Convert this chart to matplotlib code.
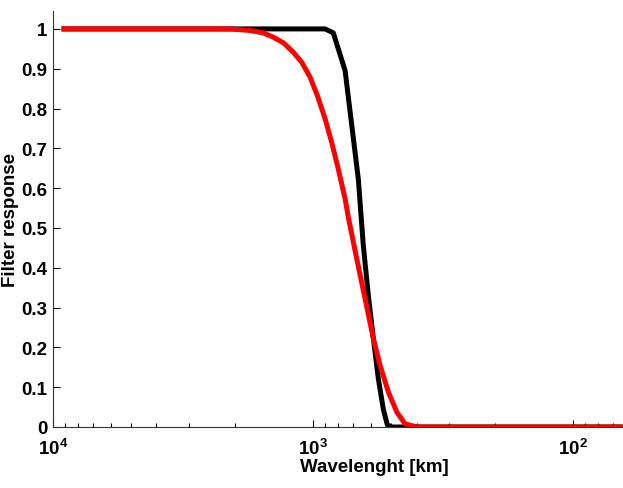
import matplotlib
matplotlib.use("Agg")
import matplotlib.pyplot as plt
from matplotlib.ticker import LogLocator, FixedLocator

plt.rcParams['font.family'] = ['Liberation Sans', 'DejaVu Sans']
plt.rcParams['font.weight'] = 'bold'

# --- Filter response data (wavelength in km) ---
black_wl = [9070, 899, 836, 753, 670, 641, 613, 586, 561, 537, 518, 497, 66]
black_resp = [1.0, 1.0, 0.99, 0.895, 0.623, 0.456, 0.33, 0.221, 0.121, 0.045,
              0.005, 0.0, 0.0]

red_wl = [9070, 2084, 1747, 1553, 1421, 1300, 1190, 1105, 1027, 962, 899, 848,
          800, 753, 731, 679, 631, 586, 552, 513, 476, 443, 399, 66]
red_resp = [1.0, 1.0, 0.996, 0.99, 0.979, 0.965, 0.941, 0.916, 0.879, 0.832,
            0.774, 0.715, 0.648, 0.573, 0.525, 0.422, 0.322, 0.221, 0.154,
            0.087, 0.037, 0.008, 0.0, 0.0]

y_ticks = [0, 0.1, 0.2, 0.3, 0.4, 0.5, 0.6, 0.7, 0.8, 0.9, 1]
y_labels = ["0", "0.1", "0.2", "0.3", "0.4", "0.5", "0.6", "0.7", "0.8", "0.9", "1"]

fig = plt.figure(figsize=(6.23, 4.89), dpi=100)
# axes run past the right edge of the figure, as in the cropped original
ax = fig.add_axes([53 / 623, 61 / 489, 642 / 623, 416 / 489])

ax.plot(black_wl, black_resp, color='black', linewidth=3.6)
ax.plot(red_wl, red_resp, color='red', linewidth=3.6)

ax.set_xscale('log')
ax.set_xlim(10000, 34)
ax.set_ylim(0, 1.045)

ax.set_yticks(y_ticks)
ax.set_yticklabels(y_labels)
ax.xaxis.set_major_locator(FixedLocator([1e4, 1e3, 1e2]))
ax.set_xticklabels([r"$\mathdefault{10^{4}}$", r"$\mathdefault{10^{3}}$",
                    r"$\mathdefault{10^{2}}$"])
ax.xaxis.set_minor_locator(LogLocator(base=10, subs=range(2, 10)))

ax.tick_params(axis='both', which='both', direction='in', labelsize=13.5)
ax.tick_params(axis='both', which='major', length=5, width=0.8)
ax.tick_params(axis='x', which='minor', length=3, width=0.8)
ax.tick_params(axis='x', pad=8)
ax.tick_params(axis='y', pad=4)

for side in ['top', 'right']:
    ax.spines[side].set_visible(False)
for side in ['left', 'bottom']:
    ax.spines[side].set_color('#333333')
    ax.spines[side].set_linewidth(0.8)

ax.set_xlabel("Wavelenght [km]", fontsize=13.5, fontweight='bold', labelpad=0)
ax.set_ylabel("Filter response", fontsize=13.5, fontweight='bold', labelpad=2)

fig.savefig("out.png", dpi=100)
